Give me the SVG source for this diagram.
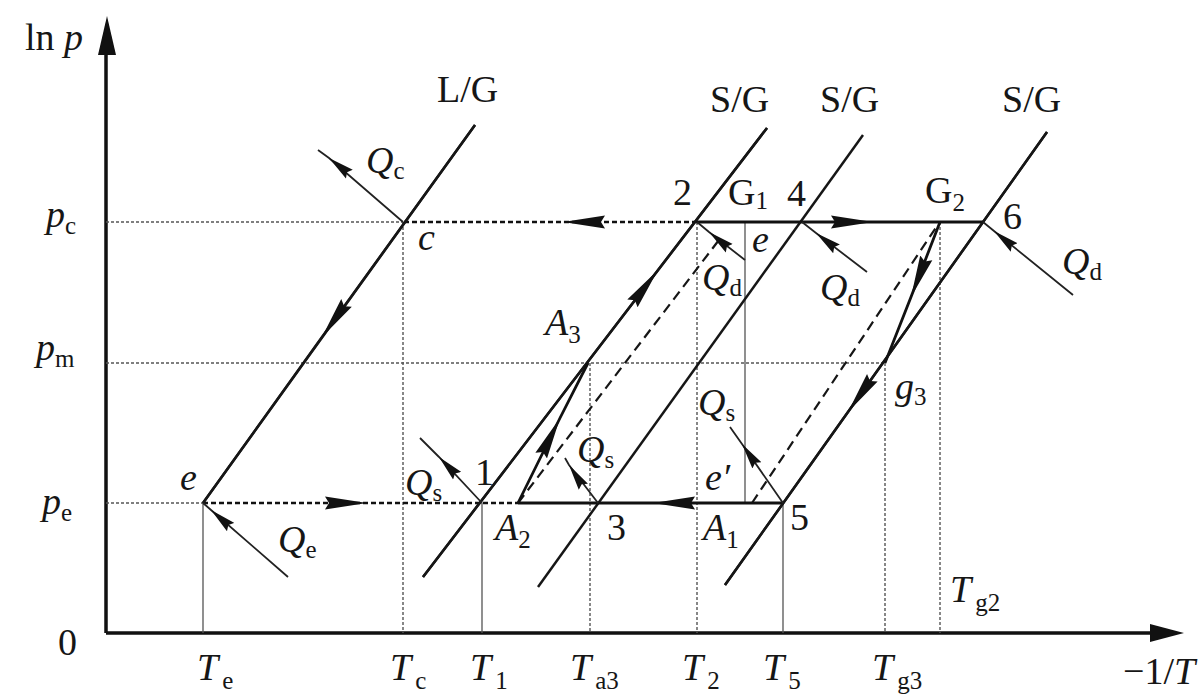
<svg xmlns="http://www.w3.org/2000/svg" width="1204" height="697" viewBox="0 0 1204 697">
<defs>
<style>
text{font-family:"Liberation Serif","Times New Roman",serif;font-size:38px;fill:#161616}
.i{font-style:italic}
.s{font-size:25px;font-style:normal}
.axis{stroke:#111;stroke-width:3.5;fill:none}
.iso{stroke:#161616;stroke-width:2.5;fill:none}
.proc{stroke:#111;stroke-width:2.8;fill:none}
.dash{stroke:#161616;stroke-width:2.2;fill:none;stroke-dasharray:10 6}
.flowd{stroke:#111;stroke-width:2.6;fill:none;stroke-dasharray:5 3}
.dot{stroke:#555;stroke-width:1.4;fill:none;stroke-dasharray:3 2}
.thin{stroke:#555;stroke-width:1.3;fill:none}
.heat{stroke:#222;stroke-width:1.8;fill:none;marker-mid:url(#hh)}
.fa{marker-mid:url(#fh)}
.ah{fill:#111;stroke:none}
</style>
<marker id="fh" markerUnits="userSpaceOnUse" viewBox="0 0 42 14" markerWidth="42" markerHeight="14" refX="42" refY="7" orient="auto"><path class="ah" d="M0,0.5 L42,7 L0,13.5 L4,7 Z"/></marker>
<marker id="hh" markerUnits="userSpaceOnUse" viewBox="0 0 26 12" markerWidth="26" markerHeight="12" refX="26" refY="6" orient="auto"><path class="ah" d="M0,0.5 L26,6 L0,11.5 L3,6 Z"/></marker>
</defs>
<rect width="1204" height="697" fill="#fff"/>

<g id="axes">
<path class="axis" d="M106,633 V50 M106,633 H1155"/>
<path class="ah" d="M107,16 L98,55 L116,55 Z"/>
<path class="ah" d="M1184,633 L1150,624 L1150,642 Z"/>
</g>

<g id="guides">
<path class="dot" d="M106,222 H403 M106,363 H885 M106,503 H203"/>
<path class="thin" d="M203,503 V633 M482,503 V633 M745,222 V503 M783,503 V633"/>
<path class="dot" d="M403,222 V633 M590,363 V633 M697,222 V633 M885,363 V633 M940,222 V633"/>
</g>

<g id="connectors">
<path class="iso" d="M203,503 L475,125"/>
<path class="iso" d="M423,577 L767,128"/>
<path class="iso" d="M538,587 L863,135"/>
<path class="iso" d="M725,585 L1047,132"/>
<path class="dash" d="M518,503 L722,236"/>
<path class="dash" d="M752,503 L937,226"/>
<path class="flowd fa" d="M697,222 L563,222 L403,222"/>
<path class="proc fa" d="M697,222 L873,222 L983,222"/>
<path class="flowd fa" d="M203,503 L367,503 L518,503"/>
<path class="proc fa" d="M783,503 L653,503 L518,503"/>
<path class="iso fa" d="M475,125 L322,337 L203,503"/>
<path class="iso fa" d="M423,577 L658,270 L767,128"/>
<path class="proc fa" d="M518,503 L560,418 L588,363"/>
<path class="iso fa" d="M1047,132 L848,412 L725,585"/>
<path class="proc fa" d="M940,222 L911,297 L885,363"/>
<path class="heat" d="M403,222 L329,158 L318,150"/>
<path class="heat" d="M288,577 L211,510 L203,503"/>
<path class="heat" d="M482,503 L439,457 L420,438"/>
<path class="heat" d="M598,503 L569,465 L565,458"/>
<path class="heat" d="M783,503 L742,444 L730,427"/>
<path class="heat" d="M745,260 L709,232 L697,222"/>
<path class="heat" d="M867,272 L816,233 L802,222"/>
<path class="heat" d="M1073,295 L994,231 L983,222"/>
</g>

<g id="labels">
<text x="25" y="50">ln <tspan class="i">p</tspan></text>
<text x="437" y="102">L/G</text>
<text x="710" y="112">S/G</text>
<text x="820" y="112">S/G</text>
<text x="1002" y="112">S/G</text>
<text x="366" y="173"><tspan class="i">Q</tspan><tspan class="s" dy="6">c</tspan></text>
<text x="46" y="227"><tspan class="i">p</tspan><tspan class="s" dy="7">c</tspan></text>
<text x="36" y="360"><tspan class="i">p</tspan><tspan class="s" dy="7">m</tspan></text>
<text x="42" y="514"><tspan class="i">p</tspan><tspan class="s" dy="7">e</tspan></text>
<text class="i" x="418" y="250">c</text>
<text x="673" y="205">2</text>
<text x="728" y="205">G<tspan class="s" dy="4">1</tspan></text>
<text x="787" y="206">4</text>
<text x="925" y="203">G<tspan class="s" dy="8">2</tspan></text>
<text x="1003" y="229">6</text>
<text class="i" x="752" y="252">e</text>
<text x="702" y="290"><tspan class="i">Q</tspan><tspan class="s" dy="6">d</tspan></text>
<text x="820" y="300"><tspan class="i">Q</tspan><tspan class="s" dy="6">d</tspan></text>
<text x="1062" y="274"><tspan class="i">Q</tspan><tspan class="s" dy="6">d</tspan></text>
<text x="545" y="335"><tspan class="i">A</tspan><tspan class="s" dy="8">3</tspan></text>
<text x="895" y="399"><tspan class="i">g</tspan><tspan class="s" dy="6">3</tspan></text>
<text x="698" y="415"><tspan class="i">Q</tspan><tspan class="s" dy="6">s</tspan></text>
<text x="577" y="462"><tspan class="i">Q</tspan><tspan class="s" dy="6">s</tspan></text>
<text x="405" y="495"><tspan class="i">Q</tspan><tspan class="s" dy="6">s</tspan></text>
<text class="i" x="705" y="490">e′</text>
<text class="i" x="180" y="490">e</text>
<text x="475" y="485">1</text>
<text x="495" y="540"><tspan class="i">A</tspan><tspan class="s" dy="8">2</tspan></text>
<text x="607" y="540">3</text>
<text x="703" y="540"><tspan class="i">A</tspan><tspan class="s" dy="8">1</tspan></text>
<text x="790" y="530">5</text>
<text x="278" y="552"><tspan class="i">Q</tspan><tspan class="s" dy="6">e</tspan></text>
<text x="950" y="602"><tspan class="i">T</tspan><tspan class="s" dy="9" dx="4">g2</tspan></text>
<text x="58" y="655">0</text>
<text x="197" y="680"><tspan class="i">T</tspan><tspan class="s" dy="9" dx="4">e</tspan></text>
<text x="390" y="680"><tspan class="i">T</tspan><tspan class="s" dy="9" dx="4">c</tspan></text>
<text x="470" y="680"><tspan class="i">T</tspan><tspan class="s" dy="9" dx="4">1</tspan></text>
<text x="570" y="680"><tspan class="i">T</tspan><tspan class="s" dy="9" dx="4">a3</tspan></text>
<text x="682" y="680"><tspan class="i">T</tspan><tspan class="s" dy="9" dx="4">2</tspan></text>
<text x="763" y="680"><tspan class="i">T</tspan><tspan class="s" dy="9" dx="4">5</tspan></text>
<text x="872" y="680"><tspan class="i">T</tspan><tspan class="s" dy="9" dx="4">g3</tspan></text>
<text x="1123" y="684">−1/<tspan class="i">T</tspan></text>
</g>
</svg>
